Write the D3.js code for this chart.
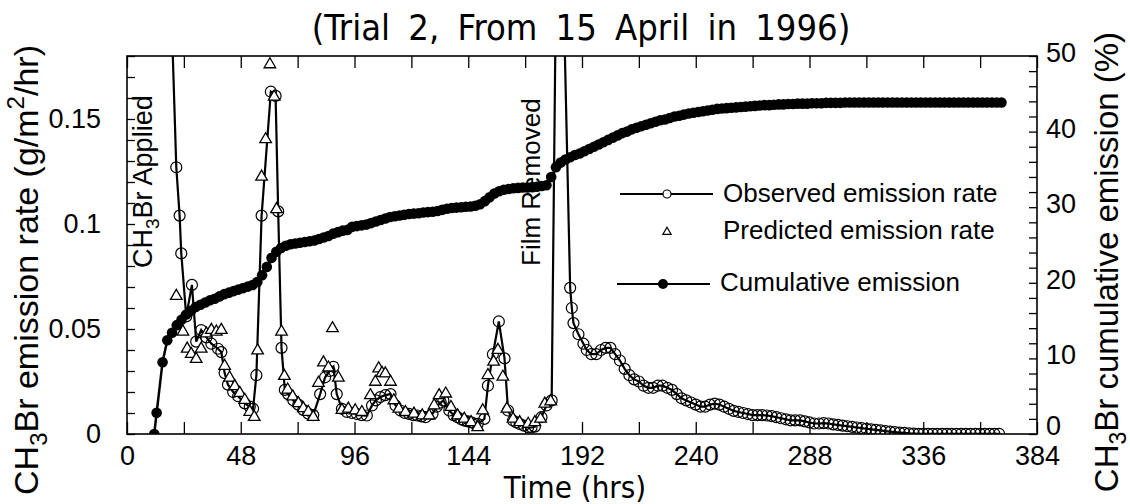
<!DOCTYPE html>
<html>
<head>
<meta charset="utf-8">
<script src="https://cdn.jsdelivr.net/npm/d3@7"></script>
<style>
  body { margin: 0; background: #fff; }
  svg text { font-family: "Liberation Sans", Arial, Helvetica, sans-serif; fill: #000; }
  .narrow { font-family: "Liberation Sans Narrow", "DejaVu Sans Condensed", sans-serif; }
</style>
</head>
<body>
<svg id="chart" width="1130" height="504"></svg>
<script>
// observed emission rate (g/m2/hr) vs time (hrs)
const obsTime = [16, 20.8, 22.2, 22.9, 25, 27.4, 29.2, 31.3, 33.5, 35.6, 38.4, 39.8, 41.2, 42.6, 44.8, 46.9, 49.7, 51.8, 53.2,
  54.6, 56.8, 60.7, 62.7, 63.8, 65.2, 66.6, 68, 70.2, 72.3, 74.4, 76.5, 78.6, 81.5, 83.6, 85.5, 87.1, 88.5, 90.7, 92.8,
  94.9, 97, 99, 101.2, 103.4, 105, 106.9, 109, 111.2, 113.3, 115.4, 117.2, 119, 120.8, 122.5, 124.3, 126, 128.9, 130.7,
  132.4, 133.5, 136, 137.8, 139.5, 141, 142.3, 143.8, 145.2, 146.6, 148, 150.8, 152.3, 154.4, 156.9, 159.3, 160.8, 162.9,
  164.3, 165.7, 167.5, 169.3, 170.7, 172.1, 174.9, 177, 179.2, 182, 187, 187.7, 188.4, 190.5, 192.6,
  194, 196, 198, 200, 202, 204, 206, 208, 210, 212, 214, 216, 218, 220, 222, 224, 226, 228, 230, 232, 234, 236, 238,
  240, 242, 244, 246, 248, 250, 252, 254, 256, 258, 260, 262, 264, 266, 268, 270, 272, 274, 276, 278, 280, 282, 284,
  286, 288, 290, 292, 294, 296, 298, 300, 302, 304, 306, 308, 310, 312, 314, 316, 318, 320, 322, 324, 326, 328, 330,
  332, 334, 336, 338, 340, 342, 344, 346, 348, 350, 352, 354, 356, 358, 360, 362, 364, 366, 368];
const obsRate = [0.30, 0.127, 0.104, 0.086, 0.056, 0.071, 0.044, 0.0495, 0.046, 0.043, 0.0406, 0.039, 0.029, 0.0235, 0.020, 0.018, 0.0146, 0.013, 0.012,
  0.028, 0.104, 0.163, 0.161, 0.106, 0.041, 0.021, 0.019, 0.016, 0.014, 0.0115, 0.0097, 0.009, 0.019, 0.027, 0.030, 0.032, 0.019, 0.012, 0.0105,
  0.010, 0.0095, 0.009, 0.0088, 0.0136, 0.016, 0.0176, 0.0185, 0.019, 0.0136, 0.0112, 0.010, 0.0096, 0.009, 0.0088, 0.0084, 0.008, 0.0096, 0.013,
  0.015, 0.016, 0.0112, 0.009, 0.008, 0.007, 0.0064, 0.006, 0.0056, 0.005, 0.0048, 0.0072, 0.023, 0.038, 0.0536, 0.036, 0.0112, 0.0064,
  0.0055, 0.0048, 0.004, 0.0032, 0.0032, 0.0035, 0.008, 0.0136, 0.016, 0.32, 0.0696, 0.060, 0.0528, 0.0475, 0.043,
  0.040, 0.038, 0.038, 0.040, 0.041, 0.041, 0.038, 0.035, 0.031, 0.028, 0.026, 0.025, 0.023, 0.022, 0.022, 0.023, 0.023, 0.022, 0.021, 0.019, 0.017, 0.016, 0.015,
  0.014, 0.013, 0.013, 0.014, 0.0145, 0.014, 0.013, 0.012, 0.011, 0.0105, 0.010, 0.0095, 0.009, 0.009, 0.009, 0.0088, 0.0085, 0.008, 0.0075, 0.007, 0.0065, 0.0065, 0.0065,
  0.006, 0.0055, 0.005, 0.005, 0.0052, 0.005, 0.0046, 0.0043, 0.004, 0.0037, 0.0034, 0.0031, 0.0028, 0.0025, 0.0022, 0.002, 0.0017, 0.0014, 0.0011, 0.0009, 0.0007, 0.0005, 0.0003,
  0.0002, 0.0001, 0.0001, 0.0001, 0.0001, 0.0001, 0.0001, 0.0001, 0.0001, 0.0001, 0.0001, 0.0001, 0.0001, 0.0001, 0.0001, 0.0001, 0.0001, 0.0001, 0.0001];

// predicted emission rate (g/m2/hr)
const predTime = [20.8, 23.6, 25.4, 27.1, 29.2, 31.3, 33.5, 35.6, 37.7, 39.8, 41.2, 43.3, 45.5, 47.6, 49.7, 51.8, 53.7, 55.1,
  56.8, 58.5, 60.3, 62.1, 63.1, 65.2, 66.4, 67.8, 69.9, 72.3, 74.4, 76.5, 78.6, 80.8, 82.9, 85, 86.7, 89.2, 90.7, 93.4,
  96.3, 99.1, 102.7, 104.8, 106.2, 107.6, 109, 111.2, 112.6, 114.7, 117.5, 121.1, 124.6, 127.5, 129.6, 131.7, 134.5,
  136.7, 139.5, 142.3, 145.2, 148, 150.1, 152.3, 154.7, 156.5, 158.6, 160.3, 162.9, 165.7, 169.3, 172.1, 174.5, 176.3, 178.8];
const predRate = [0.0657, 0.0487, 0.0406, 0.0381, 0.0357, 0.0406, 0.0478, 0.0495, 0.0487, 0.0495, 0.0324, 0.0268, 0.0227, 0.0195, 0.0162, 0.0105, 0.0081, 0.0397,
  0.1225, 0.1403, 0.176, 0.1606, 0.107, 0.0487, 0.0276, 0.0211, 0.0178, 0.0146, 0.0122, 0.0105, 0.0081, 0.0243, 0.034, 0.0316, 0.0503, 0.0268, 0.0114, 0.012,
  0.0112, 0.0104, 0.0184, 0.0248, 0.0312, 0.029, 0.0288, 0.0248, 0.016, 0.012, 0.0104, 0.0096, 0.0088, 0.0088, 0.0136, 0.0184, 0.0192,
  0.0128, 0.0088, 0.0072, 0.0056, 0.0032, 0.0112, 0.028, 0.0344, 0.040, 0.0272, 0.012, 0.0072, 0.0056, 0.0048, 0.0056, 0.0072, 0.0144, 0.0155];

// cumulative emission (%)
const cumTime = [11.5, 12.5, 15, 17, 19, 21, 23, 25, 27, 29, 31, 33, 35, 37, 39, 41, 43, 45, 47, 49, 51, 53, 55, 57, 59, 61,
  63, 65, 67, 69, 71, 73, 75, 77, 79, 81, 83, 85, 87, 89, 91, 93, 95, 97, 99, 101, 103, 105, 107, 109, 111, 113, 115, 117,
  119, 121, 123, 125, 127, 129, 131, 133, 135, 137, 139, 141, 143, 145, 147, 149, 151, 153, 155, 157, 159, 161, 163, 165,
  167, 169, 171, 173, 175, 177, 179, 181, 183, 185, 187, 189, 191, 193, 195, 197, 199, 201, 203, 205, 207, 209, 211, 213,
  215, 217, 219, 221, 223, 225, 227, 229, 231, 233, 235, 237, 239, 241, 243, 245, 247, 249, 251, 253, 255, 257, 259, 261,
  263, 265, 267, 269, 271, 273, 275, 277, 279, 281, 283, 285, 287, 289, 291, 293, 295, 297, 299, 301, 303, 305, 307, 309,
  311, 313, 315, 317, 319, 321, 323, 325, 327, 329, 331, 333, 335, 337, 339, 341, 343, 345, 347, 349, 351, 353, 355, 357,
  359, 361, 363, 365, 367, 369];
const cumPct = [0, 2.8, 9.5, 12.4, 13.4, 14.4, 15.1, 15.8, 16.3, 16.8, 17.1, 17.4, 17.7, 17.9, 18.2, 18.5, 18.7, 18.9, 19.1, 19.3, 19.5, 19.7, 20.1, 21.0, 22.1, 23.3,
  24.1, 24.6, 24.9, 25.1, 25.2, 25.3, 25.4, 25.5, 25.6, 25.8, 26.0, 26.2, 26.5, 26.7, 26.9, 27.0, 27.4, 27.5, 27.6, 27.7, 27.9, 28.1, 28.3, 28.5, 28.7, 28.8, 28.9, 29.0,
  29.1, 29.15, 29.2, 29.3, 29.35, 29.4, 29.5, 29.65, 29.8, 29.9, 29.95, 30.0, 30.05, 30.1, 30.2, 30.4, 30.8, 31.3, 31.8, 32.1, 32.3, 32.4, 32.5, 32.55,
  32.6, 32.6, 32.65, 32.7, 32.8, 32.9, 34.0, 35.3, 35.9, 36.3, 36.6, 36.9, 37.1, 37.4, 37.7, 38.0, 38.3, 38.6, 38.9, 39.2, 39.5, 39.8, 40.0, 40.3,
  40.5, 40.7, 40.9, 41.1, 41.3, 41.5, 41.6, 41.8, 42.0, 42.1, 42.25, 42.4, 42.5, 42.6, 42.7, 42.8, 42.9, 43.0, 43.05, 43.1, 43.15, 43.2, 43.25, 43.3,
  43.35, 43.4, 43.45, 43.5, 43.5, 43.55, 43.6, 43.6, 43.65, 43.65, 43.7, 43.7, 43.7, 43.75, 43.75, 43.75, 43.8, 43.8, 43.8, 43.8, 43.85, 43.85, 43.85, 43.85,
  43.85, 43.85, 43.85, 43.85, 43.85, 43.85, 43.85, 43.85, 43.85, 43.85, 43.85, 43.85, 43.85, 43.85, 43.85, 43.85, 43.85, 43.85, 43.85, 43.85, 43.85, 43.85, 43.85, 43.85,
  43.85, 43.85, 43.85, 43.85, 43.85, 43.85];

// ticks and labels
const timeTicks = d3.range(0, 385, 24);
const timeLabels = d3.range(0, 385, 48);
const rateTicks = d3.range(0, 19).map(i => i / 100);
const rateLabels = [0, 0.05, 0.1, 0.15];
const pctTicks = d3.range(0, 51, 2);
const pctLabels = [0, 10, 20, 30, 40, 50];

const svg = d3.select("#chart");

// plot box
const pLeft = 127, pRight = 1037, pTop = 56, pBottom = 434;

const x = d3.scaleLinear().domain([0, 384]).range([pLeft, pRight]);
const yL = d3.scaleLinear().domain([0, 0.18]).range([pBottom, pTop]);
const yR = d3.scaleLinear().domain([0, 50]).range([pBottom, pTop]);

svg.append("defs").append("clipPath").attr("id", "plotclip")
  .append("rect").attr("x", pLeft).attr("y", pTop).attr("width", pRight - pLeft).attr("height", pBottom - pTop);

// axes (ticks pointing inside)
function styleAxis(g) {
  g.select(".domain").remove();
  g.selectAll(".tick line").attr("stroke", "#000").attr("stroke-width", 1.3);
  g.selectAll(".tick text").attr("font-size", 27).attr("fill", "#000");
}

svg.append("g")
  .attr("transform", `translate(0,${pBottom})`)
  .call(d3.axisBottom(x).tickValues(timeTicks).tickSize(-12).tickSizeOuter(0).tickPadding(12)
    .tickFormat(d => timeLabels.includes(d) ? d : ""))
  .call(styleAxis);

svg.append("g")
  .attr("transform", `translate(0,${pTop})`)
  .call(d3.axisTop(x).tickValues(timeTicks).tickSize(-12).tickSizeOuter(0).tickFormat(""))
  .call(styleAxis);

svg.append("g")
  .attr("transform", `translate(${pLeft},0)`)
  .call(d3.axisLeft(yL).tickValues(rateTicks).tickSize(-8).tickSizeOuter(0).tickPadding(26)
    .tickFormat(d => rateLabels.some(v => Math.abs(v - d) < 1e-9) ? d3.format("~g")(d) : ""))
  .call(styleAxis);

const rAxis = svg.append("g")
  .attr("transform", `translate(${pRight},0)`)
  .call(d3.axisRight(yR).tickValues(pctTicks).tickSize(-8).tickSizeOuter(0).tickPadding(9)
    .tickFormat(d => pctLabels.includes(d) ? d : ""))
  .call(styleAxis);
rAxis.selectAll(".tick text").attr("dy", d => d === 0 ? "0.02em" : "0.2em");

// frame
svg.append("rect")
  .attr("x", pLeft).attr("y", pTop).attr("width", pRight - pLeft).attr("height", pBottom - pTop)
  .attr("fill", "none").attr("stroke", "#000").attr("stroke-width", 1.6);

const plot = svg.append("g").attr("clip-path", "url(#plotclip)");

// observed: line + open circles
const obs = obsTime.map((t, i) => ({ t, v: obsRate[i] }));
plot.append("path")
  .datum(obs)
  .attr("fill", "none").attr("stroke", "#000").attr("stroke-width", 2.2)
  .attr("d", d3.line().x(d => x(d.t)).y(d => yL(d.v)));

plot.selectAll(".obs")
  .data(obs.filter(d => d.v <= 0.18))
  .enter().append("circle")
  .attr("class", "obs")
  .attr("cx", d => x(d.t)).attr("cy", d => yL(d.v)).attr("r", 5.5)
  .attr("fill", "none").attr("stroke", "#000").attr("stroke-width", 1.2);

// predicted: open triangles
const pred = predTime.map((t, i) => ({ t, v: predRate[i] }));
plot.selectAll(".pred")
  .data(pred)
  .enter().append("path")
  .attr("class", "pred")
  .attr("transform", d => `translate(${x(d.t)},${yL(d.v)})`)
  .attr("d", d3.symbol(d3.symbolTriangle, 58))
  .attr("fill", "#fff").attr("stroke", "#000").attr("stroke-width", 1.3);

// cumulative: line + filled dots
const cum = cumTime.map((t, i) => ({ t, v: cumPct[i] }));
plot.append("path")
  .datum(cum)
  .attr("fill", "none").attr("stroke", "#000").attr("stroke-width", 2.5)
  .attr("d", d3.line().x(d => x(d.t)).y(d => yR(d.v)));

plot.selectAll(".cum")
  .data(cum)
  .enter().append("circle")
  .attr("class", "cum")
  .attr("cx", d => x(d.t)).attr("cy", d => yR(d.v)).attr("r", 5.3)
  .attr("fill", "#000");

// legend
const lg = svg.append("g");
lg.append("line").attr("x1", 620).attr("x2", 713).attr("y1", 194).attr("y2", 194).attr("stroke", "#000").attr("stroke-width", 2);
lg.append("circle").attr("cx", 667).attr("cy", 194).attr("r", 4).attr("fill", "#fff").attr("stroke", "#000").attr("stroke-width", 1.2);
lg.append("text").attr("x", 723).attr("y", 202).attr("font-size", 26).text("Observed emission rate");

lg.append("path").attr("transform", "translate(667,232)").attr("d", d3.symbol(d3.symbolTriangle, 30))
  .attr("fill", "#fff").attr("stroke", "#000").attr("stroke-width", 1.2);
lg.append("text").attr("x", 723).attr("y", 239).attr("font-size", 26).text("Predicted emission rate");

lg.append("line").attr("x1", 617).attr("x2", 710).attr("y1", 284).attr("y2", 284).attr("stroke", "#000").attr("stroke-width", 2);
lg.append("circle").attr("cx", 663).attr("cy", 284).attr("r", 5).attr("fill", "#000");
lg.append("text").attr("x", 720).attr("y", 291).attr("font-size", 26).text("Cumulative emission");

// annotations
const ann1 = svg.append("text").attr("transform", "translate(152,268) rotate(-90)").attr("font-size", 27);
ann1.append("tspan").text("CH");
ann1.append("tspan").attr("font-size", 19).attr("dy", 7).text("3");
ann1.append("tspan").attr("dy", -7).text("Br Applied");

svg.append("text").attr("transform", "translate(540,266) rotate(-90)").attr("font-size", 26).text("Film Removed");

// title
svg.append("text").attr("class", "narrow").attr("x", 581).attr("y", 40).attr("text-anchor", "middle")
  .attr("font-size", 36).attr("word-spacing", 8).text("(Trial 2, From 15 April in 1996)");

// x axis title
svg.append("text").attr("class", "narrow").attr("x", 575).attr("y", 498).attr("text-anchor", "middle")
  .attr("font-size", 31).text("Time (hrs)");

// left axis title
const lt = svg.append("text").attr("transform", "translate(38,270) rotate(-90)").attr("text-anchor", "middle").attr("font-size", 34);
lt.append("tspan").text("CH");
lt.append("tspan").attr("font-size", 24).attr("dy", 9).text("3");
lt.append("tspan").attr("dy", -9).text("Br emission rate (g/m");
lt.append("tspan").attr("font-size", 24).attr("dy", -14).text("2");
lt.append("tspan").attr("dy", 14).text("/hr)");

// right axis title
const rt = svg.append("text").attr("transform", "translate(1118,262) rotate(-90)").attr("text-anchor", "middle").attr("font-size", 33);
rt.append("tspan").text("CH");
rt.append("tspan").attr("font-size", 23).attr("dy", 8).text("3");
rt.append("tspan").attr("dy", -8).text("Br cumulative emission (%)");
</script>
</body>
</html>
